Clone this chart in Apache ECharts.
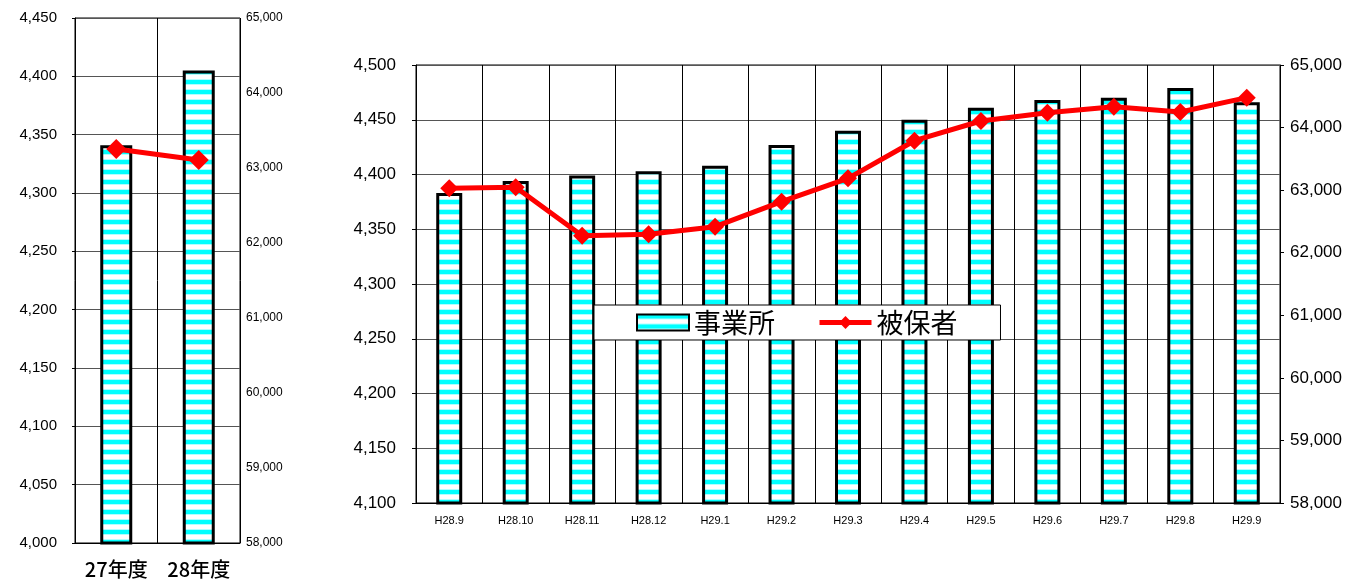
<!DOCTYPE html>
<html>
<head>
<meta charset="utf-8">
<script src="https://cdn.jsdelivr.net/npm/echarts@6/dist/echarts.min.js"></script>
<style>
html,body{margin:0;padding:0;background:#fff;}
#chart{width:1372px;height:584px;}
</style>
</head>
<body>
<div id="chart"></div>
<script>
// ---- data ----
const yearCategories = ['27年度', '28年度'];
const yearOffices = [4341, 4405];
const yearInsured = [63253, 63107];

const monthCategories = ['H28.9','H28.10','H28.11','H28.12','H29.1','H29.2','H29.3','H29.4','H29.5','H29.6','H29.7','H29.8','H29.9'];
const monthOffices = [4383, 4394, 4399, 4403, 4408, 4427, 4440, 4450, 4461, 4468, 4470, 4479, 4466];
const monthInsured = [63030, 63045, 62272, 62294, 62416, 62816, 63189, 63790, 64105, 64238, 64334, 64249, 64478];

const seriesNames = ['事業所', '被保者'];

// ---- pattern ----
function makePattern(){
  const c = document.createElement('canvas');
  c.width = 10; c.height = 10;
  const g = c.getContext('2d');
  g.fillStyle = '#ffffff'; g.fillRect(0,0,10,10);
  g.fillStyle = '#00ffff'; g.fillRect(0,0,10,4);
  g.fillStyle = '#b0ffff'; g.fillRect(0,4,10,1); g.fillRect(0,9,10,1);
  return c;
}
const pat = {image: makePattern(), repeat: 'repeat'};
const fmt = v => Number(v).toLocaleString('en-US');
const latin = 'Liberation Sans, Arial, sans-serif';
const cjk = '"Noto Sans CJK JP", sans-serif';

const chart = echarts.init(document.getElementById('chart'), null, {renderer:'canvas'});
chart.setOption({
  animation: false,
  legend: {
    left: 594, top: 305,
    backgroundColor: '#fff', borderColor: '#000', borderWidth: 1,
    padding: [4, 43, 4, 42],
    itemWidth: 52, itemHeight: 16, itemGap: 42,
    textStyle: {fontSize: 27, fontFamily: cjk, color: '#000'},
    data: [
      {name: seriesNames[0], icon: 'rect', itemStyle: {borderWidth: 2}},
      {name: seriesNames[1], lineStyle: {width: 5}}
    ]
  },
  grid: [
    {left: 75, top: 18, width: 165, height: 525, show: true, borderColor: '#000', borderWidth: 1},
    {left: 416, top: 65, width: 864, height: 438, show: true, borderColor: '#000', borderWidth: 1}
  ],
  xAxis: [
    {type: 'category', gridIndex: 0, data: yearCategories,
     axisLine: {lineStyle: {color: '#000'}}, axisTick: {show: false},
     splitLine: {show: true, interval: 0, lineStyle: {color: '#000', width: 1}},
     axisLabel: {fontSize: 20, fontFamily: cjk, fontWeight: 500, color: '#000', margin: 16}},
    {type: 'category', gridIndex: 1, data: monthCategories,
     axisLine: {lineStyle: {color: '#000'}}, axisTick: {show: false},
     splitLine: {show: true, interval: 0, lineStyle: {color: '#000', width: 1}},
     axisLabel: {fontSize: 11, fontFamily: latin, color: '#000', margin: 12, interval: 0}}
  ],
  yAxis: [
    {type: 'value', gridIndex: 0, min: 4000, max: 4450, interval: 50,
     axisLine: {show: true, lineStyle: {color: '#000'}}, axisTick: {show: true, length: 3, lineStyle: {color: '#000'}},
     splitLine: {show: true, lineStyle: {color: '#555', width: 1}},
     axisLabel: {fontSize: 15, fontFamily: latin, color: '#000', margin: 18, formatter: fmt}},
    {type: 'value', gridIndex: 0, position: 'right', min: 58000, max: 65000, interval: 1000,
     axisLine: {show: false}, axisTick: {show: false}, splitLine: {show: false},
     axisLabel: {fontSize: 12, fontFamily: latin, color: '#000', margin: 6, formatter: fmt}},
    {type: 'value', gridIndex: 1, min: 4100, max: 4500, interval: 50,
     axisLine: {show: true, lineStyle: {color: '#000'}}, axisTick: {show: true, length: 4, lineStyle: {color: '#000'}},
     splitLine: {show: true, lineStyle: {color: '#555', width: 1}},
     axisLabel: {fontSize: 17, fontFamily: latin, color: '#000', margin: 20, formatter: fmt}},
    {type: 'value', gridIndex: 1, position: 'right', min: 58000, max: 65000, interval: 1000,
     axisLine: {show: true, lineStyle: {color: '#000'}}, axisTick: {show: true, length: 4, lineStyle: {color: '#000'}},
     splitLine: {show: false},
     axisLabel: {fontSize: 17, fontFamily: latin, color: '#000', margin: 10, formatter: fmt}}
  ],
  series: [
    {name: seriesNames[0], type: 'bar', xAxisIndex: 0, yAxisIndex: 0, data: yearOffices, barWidth: 32,
     itemStyle: {color: pat, borderColor: '#000', borderWidth: 3}},
    {name: seriesNames[1], type: 'line', xAxisIndex: 0, yAxisIndex: 1, data: yearInsured,
     symbol: 'diamond', symbolSize: 20, lineStyle: {color: '#ff0000', width: 5},
     itemStyle: {color: '#ff0000'}},
    {name: seriesNames[0], type: 'bar', xAxisIndex: 1, yAxisIndex: 2, data: monthOffices, barWidth: 26,
     itemStyle: {color: pat, borderColor: '#000', borderWidth: 3}},
    {name: seriesNames[1], type: 'line', xAxisIndex: 1, yAxisIndex: 3, data: monthInsured,
     symbol: 'diamond', symbolSize: 18, lineStyle: {color: '#ff0000', width: 5},
     itemStyle: {color: '#ff0000'}, z: 5}
  ]
});
</script>
</body>
</html>
